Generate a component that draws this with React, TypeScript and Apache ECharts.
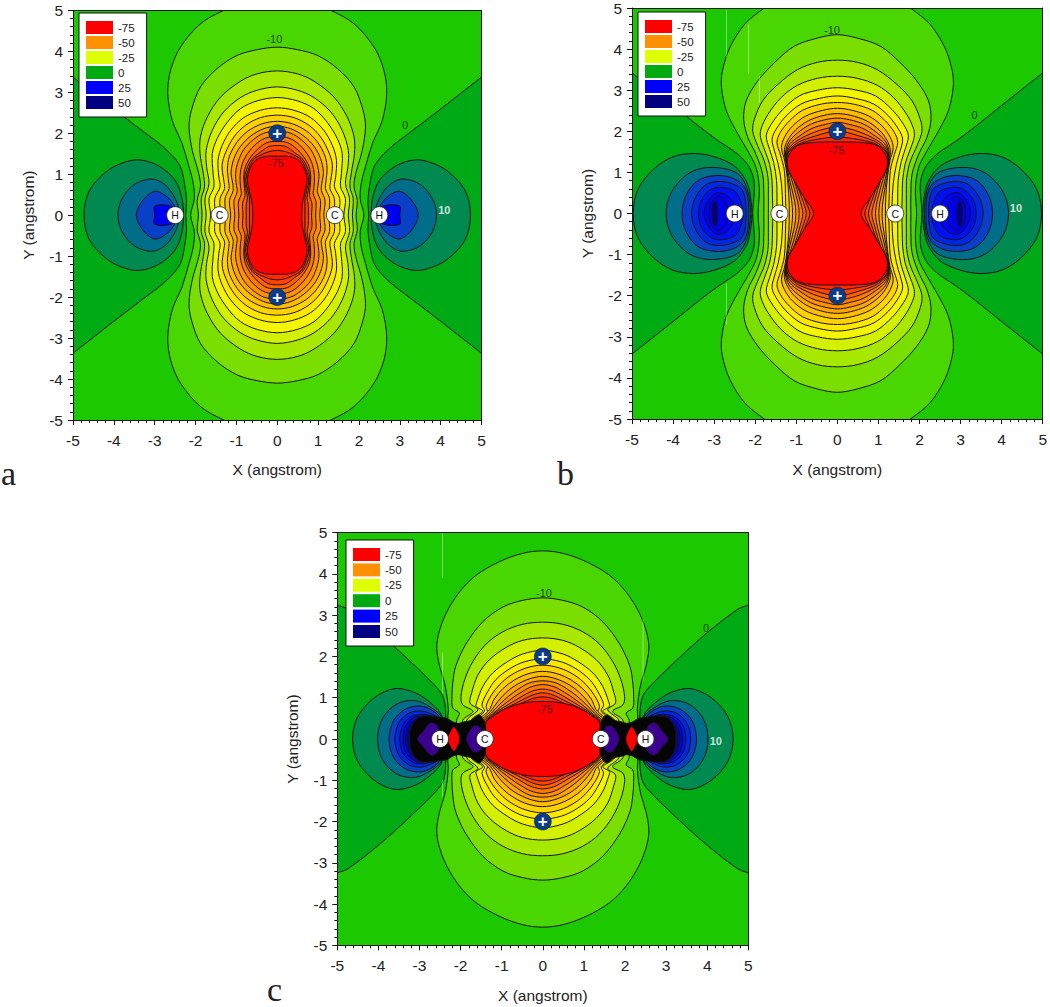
import React, { useEffect, useRef } from "react";
import * as echarts from "echarts";

const tickFont = "Liberation Sans";
const legendNames = ["-75", "-50", "-25", "0", "25", "50"];
const legendColors = ["#FF0000", "#FF9000", "#DDFF00", "#00AA10", "#0000FF", "#000080"];

const levelValues = [-5, -10, -15, -20, -25, -30, -35, -40, -45, -50, -55, -60, -65, -70, -75];
const levelColors = ["#4AD600", "#7ADF00", "#A8E800", "#D2F000", "#F4F600", "#FFE800", "#FFD200", "#FFBC00", "#FFA500", "#FF9000", "#FF7800", "#FF6000", "#FF4400", "#FF2800", "#FF0000"];
const backgroundZone = "#1CC800";
const wedgeZone = "#00AA14";

type P = number[][];

// Panel a: quadrant outlines of the contour levels, angstrom
const aM05: P = [[2.12, 0], [2.03, .4], [2.06, .8], [2.16, 1.18], [2.33, 1.75], [2.57, 2.31], [2.68, 2.97], [2.61, 3.54], [2.37, 4.1], [1.88, 4.67], [1.31, 5], [.7, 5.24], [0, 5.3]];
const aM10: P = [[1.93, 0], [1.96, .36], [1.88, .69], [1.92, 1.01], [2.08, 1.58], [2.16, 2.15], [2.1, 2.56], [1.88, 3.13], [1.47, 3.58], [.98, 3.9], [.49, 4.04], [0, 4.1]];
const aM15: P = [[1.84, 0], [1.86, .4], [1.78, .69], [1.81, 1.01], [1.89, 1.5], [1.88, 1.91], [1.71, 2.4], [1.39, 2.88], [.9, 3.27], [.49, 3.45], [0, 3.52]];
const aM20: P = [[1.74, 0], [1.77, .4], [1.67, .77], [1.73, 1.18], [1.74, 1.58], [1.59, 2.07], [1.31, 2.52], [.9, 2.87], [.49, 3.05], [0, 3.13]];
const aM25: P = [[1.63, 0], [1.67, .4], [1.55, .69], [1.57, 1.01], [1.59, 1.5], [1.47, 1.87], [1.22, 2.27], [.9, 2.6], [.49, 2.79], [0, 2.87]];
const aM30: P = [[1.51, 0], [1.53, .4], [1.4, .69], [1.43, .93], [1.45, 1.34], [1.35, 1.7], [1.14, 2.07], [.82, 2.38], [.41, 2.56], [0, 2.62]];
const aM35: P = [[1.39, 0], [1.4, .4], [1.29, .65], [1.31, .85], [1.35, 1.22], [1.26, 1.54], [1.06, 1.91], [.78, 2.19], [.41, 2.38], [0, 2.44]];
const aM40: P = [[1.26, 0], [1.28, .4], [1.18, .65], [1.19, .81], [1.22, 1.13], [1.17, 1.44], [.98, 1.79], [.72, 2.05], [.37, 2.23], [0, 2.29]];
const aM45: P = [[1.14, 0], [1.17, .36], [1.08, .6], [1.09, .77], [1.13, 1.05], [1.06, 1.38], [.9, 1.68], [.65, 1.93], [.33, 2.11], [0, 2.17]];
const aM50: P = [[1.04, 0], [1.06, .35], [.98, .57], [1, .73], [1.02, 1.01], [.96, 1.3], [.82, 1.6], [.59, 1.84], [.33, 2], [0, 2.05]];
const aM55: P = [[.94, 0], [.95, .32], [.88, .52], [.9, .69], [.91, .97], [.86, 1.24], [.73, 1.5], [.53, 1.73], [.29, 1.88], [0, 1.92]];
const aM60: P = [[.84, 0], [.85, .28], [.79, .48], [.8, .65], [.82, .93], [.78, 1.18], [.65, 1.42], [.47, 1.62], [.25, 1.77], [0, 1.8]];
const aM65: P = [[.76, 0], [.76, .25], [.73, .42], [.76, .6], [.8, .88], [.75, 1.12], [.62, 1.37], [.42, 1.53], [.22, 1.67], [0, 1.7]];
const aM70: P = [[.68, 0], [.68, .22], [.68, .42], [.72, .6], [.77, .85], [.71, 1.1], [.58, 1.36], [.38, 1.48], [.2, 1.55], [0, 1.58]];
const aM75: P = [[.6, 0], [.61, .25], [.68, .58], [.73, .85], [.68, 1.1], [.54, 1.33], [.3, 1.43], [0, 1.44]];
const aZero: P = [[5.6, 3.83], [5, 3.37], [3.83, 2.46], [3.13, 1.93], [2.94, 1.79], [2.61, 1.5], [2.37, 1.18], [2.27, .77], [2.22, .36], [2.24, 0]];
const aP10: P = [[4.73, 0], [4.6, .6], [4.2, 1.05], [3.8, 1.27], [3.38, 1.35], [2.9, 1.2], [2.5, .85], [2.33, .4], [2.3, 0]];
const aP20: P = [[3.9, 0], [3.8, .4], [3.5, .75], [3.05, .88], [2.7, .7], [2.45, .3], [2.4, 0]];
const aP30: P = [[3.45, 0], [3.3, .35], [3, .58], [2.7, .45], [2.5, .2], [2.45, 0]];
const aP40: P = [[3, 0], [3, .22], [2.6, .22], [2.4, 0]];

// Panel b
const bM05: P = [[1.93, 0], [1.9, .6], [1.98, 1.12], [2.18, 1.52], [2.42, 1.93], [2.7, 2.49], [2.82, 3.06], [2.8, 3.46], [2.62, 4.03], [2.26, 4.6], [1.78, 5], [1.2, 5.4], [0, 5.6]];
const bM10: P = [[1.79, 0], [1.79, .47], [1.82, .96], [1.98, 1.44], [2.18, 1.85], [2.28, 2.29], [2.22, 2.74], [1.94, 3.22], [1.53, 3.67], [1.05, 4.07], [.48, 4.27], [0, 4.35]];
const bM15: P = [[1.68, 0], [1.68, .47], [1.69, .88], [1.78, 1.28], [1.94, 1.65], [2.06, 2], [2.02, 2.29], [1.82, 2.74], [1.45, 3.14], [.97, 3.5], [.48, 3.68], [0, 3.73]];
const bM20: P = [[1.57, 0], [1.58, .4], [1.59, .8], [1.65, 1.2], [1.76, 1.52], [1.87, 1.85], [1.86, 2.05], [1.69, 2.41], [1.37, 2.82], [.97, 3.12], [.48, 3.29], [0, 3.34]];
const bM25: P = [[1.47, 0], [1.47, .4], [1.48, .8], [1.55, 1.24], [1.65, 1.56], [1.73, 1.89], [1.61, 2.17], [1.33, 2.53], [.93, 2.86], [.48, 3], [0, 3.06]];
const bM30: P = [[1.33, 0], [1.33, .17], [1.36, .72], [1.44, 1.2], [1.53, 1.52], [1.59, 1.81], [1.49, 2.05], [1.25, 2.37], [.89, 2.66], [.44, 2.8], [0, 2.86]];
const bM35: P = [[1.25, 0], [1.26, .3], [1.29, 1.04], [1.39, 1.44], [1.47, 1.73], [1.39, 1.97], [1.17, 2.25], [.85, 2.51], [.4, 2.66], [0, 2.7]];
const bM40: P = [[1.17, 0], [1.18, .4], [1.22, .88], [1.28, 1.28], [1.36, 1.6], [1.29, 1.85], [1.09, 2.13], [.77, 2.37], [.36, 2.51], [0, 2.56]];
const bM45: P = [[1.09, 0], [1.11, .3], [1.2, .85], [1.26, 1.25], [1.29, 1.55], [1.21, 1.78], [1.02, 2.03], [.7, 2.26], [.32, 2.39], [0, 2.43]];
const bM50: P = [[1.01, 0], [1.04, .3], [1.17, .85], [1.24, 1.22], [1.26, 1.5], [1.18, 1.74], [.97, 1.96], [.65, 2.17], [.3, 2.28], [0, 2.32]];
const bM55: P = [[.93, 0], [.97, .3], [1.12, .85], [1.23, 1.2], [1.25, 1.47], [1.15, 1.7], [.93, 1.88], [.62, 2.07], [.28, 2.17], [0, 2.22]];
const bM60: P = [[.84, 0], [.9, .28], [1.07, .85], [1.22, 1.15], [1.24, 1.45], [1.12, 1.66], [.9, 1.82], [.58, 1.97], [.25, 2.07], [0, 2.11]];
const bM65: P = [[.76, 0], [.82, .25], [1.03, .8], [1.22, 1.12], [1.23, 1.43], [1.1, 1.62], [.88, 1.77], [.55, 1.88], [.25, 1.97], [0, 2]];
const bM70: P = [[.67, 0], [.74, .22], [.97, .75], [1.21, 1.1], [1.22, 1.42], [1.08, 1.6], [.86, 1.72], [.52, 1.8], [0, 1.86]];
const bM75: P = [[.58, 0], [.81, .39], [1.05, .8], [1.21, 1.12], [1.19, 1.4], [.97, 1.65], [.56, 1.73], [0, 1.74]];
const bZero: P = [[5.6, 3.9], [5, 3.42], [4, 2.63], [3.34, 2.1], [2.9, 1.77], [2.42, 1.44], [2.14, 1.12], [2.02, .72], [2.06, 0]];
const bP10: P = [[4.97, 0], [4.85, .6], [4.45, 1.1], [4, 1.38], [3.5, 1.46], [3, 1.38], [2.5, 1.15], [2.2, .75], [2.1, .3], [2.08, 0]];
const bP20: P = [[4.17, 0], [4.05, .5], [3.7, .92], [3.3, 1.1], [2.8, 1.1], [2.4, .95], [2.18, .55], [2.12, 0]];
const bP30: P = [[3.78, 0], [3.68, .45], [3.4, .8], [3, .92], [2.6, .88], [2.3, .7], [2.18, .4], [2.16, 0]];
const bP40: P = [[3.55, 0], [3.45, .4], [3.2, .7], [2.9, .78], [2.55, .72], [2.3, .55], [2.22, 0]];
const bP50: P = [[3.38, 0], [3.3, .35], [3.05, .6], [2.75, .63], [2.45, .5], [2.3, 0]];
const bP60: P = [[3.25, 0], [3.15, .3], [2.95, .5], [2.7, .45], [2.5, .2], [2.4, 0]];
const bP70: P = [[3.12, 0], [3.08, .25], [2.9, .42], [2.75, .3], [2.65, .1], [2.62, 0]];
const bP80: P = [[3.04, 0], [3.03, .22], [2.97, .3], [2.93, .2], [2.92, 0]];

// Panel c
const cM05: P = [[2.3, 0], [2.31, .55], [2.3, .71], [2.33, 1.03], [2.39, 1.36], [2.51, 1.76], [2.58, 2.2], [2.53, 2.57], [2.35, 3.05], [2.03, 3.56], [1.62, 3.97], [1.05, 4.3], [.49, 4.5], [0, 4.56]];
const cM10: P = [[2.1, 0], [2.1, .45], [2.03, .63], [2.19, .75], [2.21, 1.03], [2.19, 1.36], [2.12, 1.76], [1.87, 2.3], [1.46, 2.84], [.97, 3.2], [.49, 3.36], [0, 3.42]];
const cM15: P = [[1.95, 0], [1.95, .45], [1.7, .67], [1.95, .83], [1.99, 1.03], [1.9, 1.44], [1.7, 1.88], [1.38, 2.3], [.97, 2.6], [.49, 2.78], [0, 2.83]];
const cM20: P = [[1.85, 0], [1.85, .45], [1.58, .71], [1.77, .87], [1.73, 1.12], [1.58, 1.55], [1.3, 1.92], [.89, 2.22], [.49, 2.39], [0, 2.45]];
const cM25: P = [[1.75, 0], [1.75, .45], [1.46, .67], [1.62, .79], [1.6, .91], [1.46, 1.27], [1.22, 1.6], [.85, 1.88], [.49, 2.06], [0, 2.15]];
const cM30: P = [[1.7, 0], [1.7, .4], [1.42, .67], [1.48, .83], [1.34, 1.15], [1.14, 1.44], [.81, 1.7], [.45, 1.87], [0, 1.94]];
const cM35: P = [[1.65, 0], [1.65, .4], [1.34, .62], [1.38, .79], [1.26, 1.05], [1.05, 1.32], [.77, 1.55], [.41, 1.72], [0, 1.79]];
const cM40: P = [[1.6, 0], [1.6, .4], [1.3, .71], [1.18, .97], [.97, 1.22], [.69, 1.43], [.36, 1.58], [0, 1.64]];
const cM45: P = [[1.55, 0], [1.55, .39], [1.27, .67], [1.1, .9], [.89, 1.13], [.65, 1.31], [.32, 1.46], [0, 1.52]];
const cM50: P = [[1.5, 0], [1.5, .38], [1.25, .63], [1.05, .84], [.83, 1.04], [.58, 1.22], [.32, 1.36], [0, 1.41]];
const cM55: P = [[1.46, 0], [1.46, .38], [1.23, .6], [1.02, .78], [.76, .98], [.53, 1.13], [.29, 1.26], [0, 1.32]];
const cM60: P = [[1.44, 0], [1.44, .36], [1.22, .58], [.98, .75], [.7, .92], [.48, 1.05], [.26, 1.16], [0, 1.21]];
const cM65: P = [[1.42, 0], [1.42, .34], [1.2, .56], [.95, .72], [.65, .87], [.44, .98], [.24, 1.07], [0, 1.12]];
const cM70: P = [[1.41, 0], [1.41, .3], [1.2, .55], [.93, .7], [.6, .83], [.4, .92], [.22, .99], [0, 1.02]];
const cM75: P = [[1.4, 0], [1.41, .2], [1.37, .42], [1.23, .54], [1, .69], [.72, .81], [.36, .89], [0, .91]];
const cZero: P = [[5.6, 3.6], [5, 3.25], [4.75, 3.15], [3.98, 2.56], [3.17, 1.83], [2.52, 1.18], [2.4, .94], [2.36, .53], [2.36, 0]];
const cP10: P = [[4.63, 0], [4.5, .55], [4.1, 1], [3.6, 1.22], [3.1, 1.12], [2.7, .85], [2.45, .55], [2.4, 0]];
const cP20: P = [[4.02, 0], [3.9, .5], [3.55, .85], [3.1, .93], [2.7, .75], [2.46, .52], [2.42, 0]];
const cP30: P = [[3.74, 0], [3.63, .45], [3.35, .72], [3, .8], [2.7, .7], [2.5, .5], [2.45, 0]];
const cP40: P = [[3.6, 0], [3.5, .4], [3.25, .63], [2.95, .68], [2.7, .6], [2.52, .48], [2.46, 0]];
const cP50: P = [[3.48, 0], [3.4, .35], [3.18, .55], [2.92, .6], [2.7, .55], [2.54, .46], [2.47, 0]];
const cP60: P = [[3.4, 0], [3.33, .33], [3.13, .52], [2.9, .56], [2.7, .52], [2.55, .45], [2.48, 0]];
const cP70: P = [[3.34, 0], [3.27, .3], [3.1, .48], [2.88, .54], [2.7, .52], [2.55, .45], [2.48, 0]];
const cP80: P = [[3.29, 0], [3.23, .29], [3.07, .49], [2.85, .55], [2.7, .52], [2.55, .45], [2.48, 0]];
const cDense: P = [[3.24, 0], [3.2, .28], [3.05, .5], [2.8, .56], [2.5, .52], [2.33, .5], [2.2, .42], [2.05, .38], [1.9, .42], [1.75, .45], [1.55, .58], [1.42, .4], [1.38, 0]];
const cPurpleH: P = [[3.05, 0], [2.9, .2], [2.72, .4], [2.55, .3], [2.5, 0]];
const cRed: P = [[2.32, 0], [2.24, .2], [2.16, .3], [2.06, .15], [2.02, 0]];
const cPurpleC: P = [[1.86, 0], [1.78, .2], [1.65, .33], [1.5, .25], [1.45, 0]];

const aCentral = [aM05, aM10, aM15, aM20, aM25, aM30, aM35, aM40, aM45, aM50, aM55, aM60, aM65, aM70, aM75];
const bCentral = [bM05, bM10, bM15, bM20, bM25, bM30, bM35, bM40, bM45, bM50, bM55, bM60, bM65, bM70, bM75];
const cCentral = [cM05, cM10, cM15, cM20, cM25, cM30, cM35, cM40, cM45, cM50, cM55, cM60, cM65, cM70, cM75];
const aLobes = [aP10, aP20, aP30, aP40];
const aLobeColors = ["#008A50", "#006E88", "#0A40C8", "#0000F0"];
const bLobes = [bP10, bP20, bP30, bP40, bP50, bP60, bP70, bP80];
const bLobeColors = ["#008A50", "#006E88", "#0A40C8", "#0028E0", "#0010F0", "#0000FF", "#0000E8", "#000080"];
const cLobes = [cP10, cP20, cP30, cP40, cP50, cP60, cP70, cP80, cDense, cPurpleH, cRed, cPurpleC];
const cLobeColors = ["#008A50", "#006E88", "#0A40C8", "#0028E0", "#0010F0", "#0000FF", "#0000D8", "#0000B0", "#050505", "#3C0090", "#FF0000", "#3C0090"];

const atomNames = ["H", "C", "C", "H"];
const atomX = [-2.5, -1.41, 1.41, 2.5];
const ionY = [2, -2];

// label text, x, y for each panel
const aLabels: any[][] = [["-10", -.07, 4.3], ["-75", -.03, 1.28], ["0", 3.13, 2.2]];
const bLabels: any[][] = [["-10", -.13, 4.47], ["-75", -.02, 1.55], ["0", 3.34, 2.39]];
const cLabels: any[][] = [["-10", .03, 3.55], ["-75", .05, .73], ["0", 3.97, 2.7]];
const aTen = [4.09, .12];
const bTen = [4.35, .13];
const cTen = [4.21, -.05];

const bStreaks = [[[-2.7, 4.95], [-2.7, 3.8]], [[-2.16, 4.6], [-2.16, 3.4]], [[-1.9, 3.35], [-1.9, 2.7]], [[-2.7, -1.7], [-2.7, -2.7]]];
const cStreaks = [[[-2.44, 5], [-2.44, 3.9]], [[-2.44, 2.1], [-2.44, 1.1]], [[2.44, 2.9], [2.44, 1.4]], [[-2.44, -1], [-2.44, -1.4]]];

const panelGrids = [
  { left: 73, top: 10.3, width: 408.5, height: 409.7 },
  { left: 632, top: 6.7, width: 413, height: 412.3 },
  { left: 337.3, top: 532.7, width: 411, height: 412.6 },
];
const legendBoxes = [
  { left: 79, top: 13, gap: 2, size: 13 },
  { left: 638, top: 12, gap: 2, size: 13 },
  { left: 346, top: 540, gap: 2.4, size: 13 },
];

type Layer = { pts: P; fill: string; kind: "central" | "lobe" };

function layersFor(zero: P, central: P[], lobes: P[], lobeColors: string[]): Layer[] {
  const out: Layer[] = [{ pts: zero, fill: wedgeZone, kind: "lobe" }];
  central.forEach((pts, i) => out.push({ pts, fill: levelColors[i], kind: "central" }));
  lobes.forEach((pts, i) => out.push({ pts, fill: lobeColors[i], kind: "lobe" }));
  return out;
}

function lobeLoop(pts: P, side: number): P {
  const up = pts.map(([x, y]) => [side * x, y]);
  const down = pts.slice().reverse().filter(([, y]) => y !== 0).map(([x, y]) => [side * x, -y]);
  return up.concat(down);
}

function centralLoop(pts: P): P {
  const q1 = pts;
  const q2 = pts.slice().reverse().filter(([x]) => x !== 0).map(([x, y]) => [-x, y]);
  const q3 = pts.filter(([, y]) => y !== 0).map(([x, y]) => [-x, -y]);
  const q4 = pts.slice().reverse().filter(([x, y]) => x !== 0 && y !== 0).map(([x, y]) => [x, -y]);
  return q1.concat(q2, q3, q4);
}

function contourSeries(panel: number, layers: Layer[]) {
  return {
    type: "custom",
    name: "contours" + panel,
    xAxisIndex: panel * 2,
    yAxisIndex: panel * 2,
    clip: true,
    silent: true,
    z: 2,
    data: layers.map((_, i) => [0, 0, i]),
    renderItem: (params: any, api: any) => {
      const layer = layers[params.dataIndex];
      const loops = layer.kind === "central" ? [centralLoop(layer.pts)] : [lobeLoop(layer.pts, 1), lobeLoop(layer.pts, -1)];
      return {
        type: "group",
        children: loops.map((loop) => ({
          type: "polygon",
          shape: { points: loop.map((p) => api.coord(p)), smooth: 0.33 },
          style: { fill: layer.fill, stroke: "#141414", lineWidth: 1 },
        })),
      };
    },
  };
}

function atomSeries(panel: number) {
  return [
    {
      type: "scatter",
      name: "atoms" + panel,
      xAxisIndex: panel * 2,
      yAxisIndex: panel * 2,
      silent: true,
      z: 4,
      symbolSize: 17,
      itemStyle: { color: "#FFFFFF", opacity: 1, borderColor: "#222", borderWidth: 0.8 },
      label: { show: true, position: "inside", formatter: (p: any) => p.value[2], color: "#111", fontFamily: tickFont, fontSize: 10.5 },
      data: atomNames.map((n, i) => [atomX[i], 0, n]),
    },
    {
      type: "scatter",
      name: "ions" + panel,
      xAxisIndex: panel * 2,
      yAxisIndex: panel * 2,
      silent: true,
      z: 4,
      symbolSize: 17,
      itemStyle: { color: "#0C3C88", opacity: 1, borderColor: "#06204A", borderWidth: 0.6 },
      label: { show: true, position: "inside", formatter: "+", color: "#FFFFFF", fontFamily: tickFont, fontSize: 17, fontWeight: "bold" },
      data: ionY.map((y) => [0, y]),
    },
  ];
}

function labelSeries(panel: number, labels: any[][], ten: number[]) {
  return [
    {
      type: "scatter",
      name: "labels" + panel,
      xAxisIndex: panel * 2,
      yAxisIndex: panel * 2,
      silent: true,
      z: 5,
      symbolSize: 1,
      itemStyle: { color: "rgba(0,0,0,0)" },
      label: { show: true, position: "inside", formatter: (p: any) => p.value[2], color: "#151515", fontFamily: tickFont, fontSize: 11 },
      data: labels.map((l) => [l[1], l[2], l[0]]),
    },
    {
      type: "scatter",
      name: "ten" + panel,
      xAxisIndex: panel * 2,
      yAxisIndex: panel * 2,
      silent: true,
      z: 5,
      symbolSize: 1,
      itemStyle: { color: "rgba(0,0,0,0)" },
      label: { show: true, position: "inside", formatter: "10", color: "#FFFFFF", fontFamily: tickFont, fontSize: 11, fontWeight: "bold" },
      data: [ten],
    },
  ];
}

function streakSeries(panel: number, streaks: number[][][]) {
  return streaks.map((pts, i) => ({
    type: "line",
    name: "streak" + panel + "-" + i,
    xAxisIndex: panel * 2,
    yAxisIndex: panel * 2,
    silent: true,
    z: 3,
    showSymbol: false,
    lineStyle: { color: "rgba(255,255,255,0.4)", width: 1 },
    data: pts,
  }));
}

function axesFor(panel: number, nameGapX: number) {
  const line = { show: true, onZero: false, lineStyle: { color: "#151515", width: 1 } };
  const base = { type: "value", min: -5, max: 5, interval: 1, gridIndex: panel, splitLine: { show: false }, minorSplitLine: { show: false } };
  const label = { color: "#222", fontFamily: tickFont, fontSize: 15.5 };
  const nameStyle = { color: "#222", fontFamily: tickFont, fontSize: 15.5 };
  const ticks = { show: true, length: 5, lineStyle: { color: "#151515" } };
  const minor = { show: true, splitNumber: 5, length: 3, lineStyle: { color: "#151515" } };
  return {
    x: [
      { ...base, position: "bottom", z: 6, axisLine: line, axisTick: ticks, minorTick: minor, axisLabel: { ...label, margin: 12 }, name: "X (angstrom)", nameLocation: "middle", nameGap: nameGapX, nameTextStyle: nameStyle },
      { ...base, position: "top", z: 6, axisLine: line, axisTick: { show: false }, axisLabel: { show: false } },
    ],
    y: [
      { ...base, position: "left", z: 6, axisLine: line, axisTick: ticks, minorTick: minor, axisLabel: { ...label, margin: 10 }, name: "Y (angstrom)", nameLocation: "middle", nameGap: 37, nameTextStyle: nameStyle },
      { ...base, position: "right", z: 6, axisLine: line, axisTick: { show: false }, axisLabel: { show: false } },
    ],
  };
}

export default function App() {
  const ref = useRef<HTMLDivElement>(null);
  useEffect(() => {
    const chart = echarts.init(ref.current!, undefined, { renderer: "svg" });
    const axes = [axesFor(0, 41), axesFor(1, 42), axesFor(2, 42)];
    const aLayers = layersFor(aZero, aCentral, aLobes, aLobeColors);
    const bLayers = layersFor(bZero, bCentral, bLobes, bLobeColors);
    const cLayers = layersFor(cZero, cCentral, cLobes, cLobeColors);
    const legendSeries = legendNames.map((name, i) => ({
      type: "scatter",
      name,
      xAxisIndex: 0,
      yAxisIndex: 0,
      itemStyle: { color: legendColors[i], opacity: 1 },
      data: [] as number[][],
    }));
    const xAxis: any[] = [];
    const yAxis: any[] = [];
    axes.forEach((a) => {
      xAxis.push(...a.x);
      yAxis.push(...a.y);
    });
    const option: any = {
      animation: false,
      backgroundColor: "#FFFFFF",
      grid: panelGrids.map((g) => ({ ...g, show: true, backgroundColor: backgroundZone, borderWidth: 0, containLabel: false })),
      xAxis,
      yAxis,
      legend: legendBoxes.map((b) => ({
        left: b.left,
        top: b.top,
        orient: "vertical",
        data: legendNames,
        selectedMode: false,
        icon: "rect",
        itemWidth: 27,
        itemHeight: b.size,
        itemGap: b.gap,
        backgroundColor: "#FFFFFF",
        borderColor: "#111",
        borderWidth: 1,
        padding: [8, 12, 8, 7],
        textStyle: { color: "#222", fontFamily: tickFont, fontSize: 11.5 },
        z: 8,
      })),
      graphic: [
        { type: "text", x: 1, y: 490, z: 9, style: { text: "a", font: "34px 'Liberation Serif'", fill: "#222", verticalAlign: "bottom" } },
        { type: "text", x: 557, y: 490, z: 9, style: { text: "b", font: "34px 'Liberation Serif'", fill: "#222", verticalAlign: "bottom" } },
        { type: "text", x: 267, y: 1006, z: 9, style: { text: "c", font: "34px 'Liberation Serif'", fill: "#222", verticalAlign: "bottom" } },
      ],
      series: [
        ...legendSeries,
        contourSeries(0, aLayers),
        contourSeries(1, bLayers),
        contourSeries(2, cLayers),
        ...streakSeries(1, bStreaks),
        ...streakSeries(2, cStreaks),
        ...atomSeries(0),
        ...atomSeries(1),
        ...atomSeries(2),
        ...labelSeries(0, aLabels, aTen),
        ...labelSeries(1, bLabels, bTen),
        ...labelSeries(2, cLabels, cTen),
      ],
    };
    chart.setOption(option);
    return () => chart.dispose();
  }, []);
  return <div ref={ref} style={{ position: "fixed", left: 0, top: 0, width: 1050, height: 1007 }} />;
}
